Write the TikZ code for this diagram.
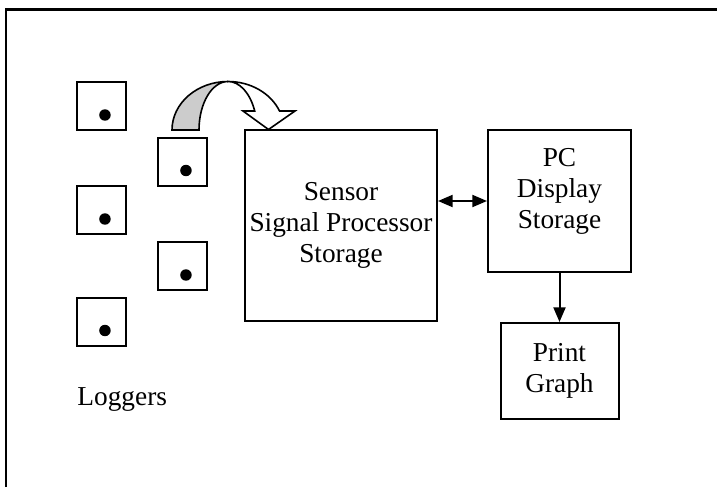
\documentclass[tikz,border=0pt]{standalone}
\usepackage{fontspec}
\setmainfont{Liberation Serif}
\usepackage{tikz}
\usetikzlibrary{positioning,arrows.meta}
\definecolor{LogGray}{HTML}{CCCCCC}

\begin{document}
\begin{tikzpicture}[x=0.75pt,y=0.75pt,>={Triangle[length=11pt,width=9pt]},
    node distance=36.75pt,line width=1.5pt]
    \tikzstyle{unitbox}=[draw,rectangle,align=center,inner sep=0pt,
      font=\fontsize{20.5}{23.25}\selectfont]
    \tikzstyle{logger}=[draw,rectangle,minimum width=36.75pt,
      minimum height=36pt,inner sep=0pt]
    \useasboundingbox (0,0) rectangle (717,487);
    % frame
    \draw (5.5,0) -- (5.5,477.5) -- (717,477.5);
    % loggers
    \foreach \n/\x/\y in {1/101.5/381,2/101.5/277,3/101.5/165.5,4/182.5/325.5,5/182.5/221} {
      \node[logger] (logger\n) at (\x,\y) {};
      \fill ([xshift=2.6pt,yshift=-6.75pt]logger\n.center) circle (4.3pt);
    }
    \node[font=\fontsize{20.5}{23.25}\selectfont,anchor=base west] (loggers) at (72,82) {Loggers};
    % units
    \node[unitbox,minimum width=144pt,minimum height=143.25pt] (sensor) at (341,261.5)
      {Sensor\\Signal Processor\\Storage};
    \node[unitbox,minimum width=107.25pt,minimum height=106.5pt,
      right=of sensor.north east,anchor=north west] (pc) {};
    \node[font=\fontsize{20.5}{23.25}\selectfont,align=center] (pctext)
      at ([yshift=7pt]pc.center) {PC\\Display\\Storage};
    \node[unitbox,minimum width=88.5pt,minimum height=72pt,below=of pc] (print)
      {Print\\Graph};
    \draw[<->] (pc.west -| sensor.east) -- (pc.west);
    \draw[->] (pc) -- (print);
    % curved upload arrow
    \filldraw[fill=LogGray,line width=1.2pt] (172,357)
      arc[start angle=180,end angle=90,x radius=42pt,y radius=36.375pt]
      arc[start angle=90,end angle=180,x radius=21.75pt,y radius=36.375pt] -- cycle;
    \filldraw[fill=white,line width=1.2pt] (228,405.5)
      arc[start angle=90,end angle=23,x radius=42pt,y radius=36.375pt]
      -- (295,376) -- (268.5,357.5) -- (243,376) -- (254.7,376)
      arc[start angle=23,end angle=90,x radius=21.75pt,y radius=36.375pt] -- cycle;
  \end{tikzpicture}
\end{document}
